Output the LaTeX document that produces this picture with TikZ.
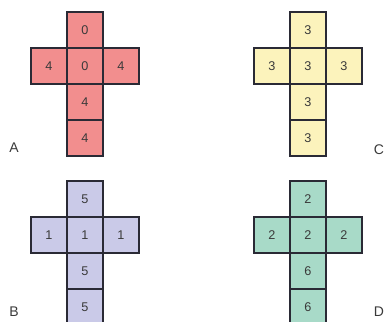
\documentclass[tikz,border=0pt]{standalone}
\usepackage{fontspec}
\setmainfont{Liberation Sans}
\usetikzlibrary{positioning}
\definecolor{nred}{HTML}{F28E8E}
\definecolor{nyellow}{HTML}{FCF3BC}
\definecolor{nlilac}{HTML}{CACAE8}
\definecolor{nteal}{HTML}{A8DAC8}
\definecolor{ndark}{HTML}{2A2A35}
\definecolor{ntext}{HTML}{3A3A3A}

\begin{document}
\begin{tikzpicture}[
    x=0.75pt, y=-0.75pt,
    node distance=0pt,
    face/.style={rectangle, draw=ndark, line width=0.9pt, minimum size=27pt, inner sep=0pt, outer sep=0pt, text=ntext, font=\fontsize{9.5}{11}\selectfont},
    tag/.style={text=ntext, font=\fontsize{10.5}{12}\selectfont}
]
    \useasboundingbox (0,0) rectangle (385,321);

    % Net A
    \node[face, fill=nred] (a1) at (85,30) {0};
    \node[face, fill=nred, below=of a1] (a2) {0};
    \node[face, fill=nred, left=of a2] (a3) {4};
    \node[face, fill=nred, right=of a2] (a4) {4};
    \node[face, fill=nred, below=of a2] (a5) {4};
    \node[face, fill=nred, below=of a5] (a6) {4};
    \node[tag] (labA) at (14,148) {A};

    % Net C
    \node[face, fill=nyellow] (c1) at (308,30) {3};
    \node[face, fill=nyellow, below=of c1] (c2) {3};
    \node[face, fill=nyellow, left=of c2] (c3) {3};
    \node[face, fill=nyellow, right=of c2] (c4) {3};
    \node[face, fill=nyellow, below=of c2] (c5) {3};
    \node[face, fill=nyellow, below=of c5] (c6) {3};
    \node[tag] (labC) at (379,150) {C};

    % Net B
    \node[face, fill=nlilac] (b1) at (85,199) {5};
    \node[face, fill=nlilac, below=of b1] (b2) {1};
    \node[face, fill=nlilac, left=of b2] (b3) {1};
    \node[face, fill=nlilac, right=of b2] (b4) {1};
    \node[face, fill=nlilac, below=of b2] (b5) {5};
    \node[face, fill=nlilac, below=of b5] (b6) {5};
    \node[tag] (labB) at (14,312) {B};

    % Net D
    \node[face, fill=nteal] (d1) at (308,199) {2};
    \node[face, fill=nteal, below=of d1] (d2) {2};
    \node[face, fill=nteal, left=of d2] (d3) {2};
    \node[face, fill=nteal, right=of d2] (d4) {2};
    \node[face, fill=nteal, below=of d2] (d5) {6};
    \node[face, fill=nteal, below=of d5] (d6) {6};
    \node[tag] (labD) at (379,312) {D};

\end{tikzpicture}
\end{document}
